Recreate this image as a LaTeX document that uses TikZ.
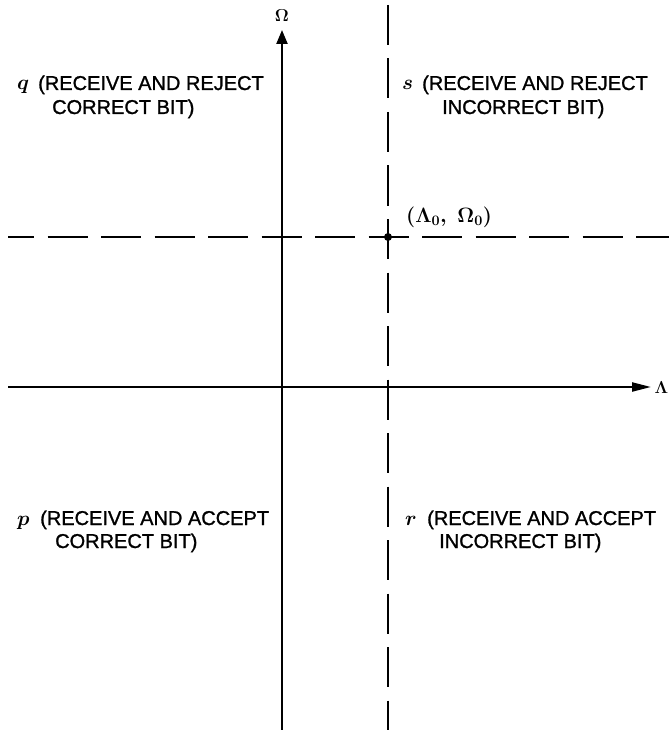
\documentclass[tikz,border=0pt]{standalone}
\usepackage{fontspec}
\setmainfont{Liberation Sans}
\newfontfamily\lettering[FakeBold=1.2]{Liberation Sans}
\usetikzlibrary{arrows.meta}
\begin{document}
\begin{tikzpicture}[x=1pt,y=-1pt,
  axis/.style={line width=2.2pt},
  dashline/.style={line width=2.2pt, dash pattern=on 40pt off 13.5pt},
  lab/.style={anchor=base west, inner sep=0pt, font=\lettering\fontsize{20}{24}\selectfont},
  letr/.style={anchor=base west, inner sep=0pt, font=\fontsize{20}{24}\selectfont\boldmath}]
\useasboundingbox (0,0) rectangle (669,730);
% axes
\coordinate (vbot) at (282,730);
\coordinate (vtop) at (282,30);
\coordinate (hleft) at (8,387);
\coordinate (hright) at (651,387);
\draw[axis,-{Triangle[length=14pt,width=11pt]}] (vbot) -- (vtop);
\draw[axis,-{Triangle[length=19pt,width=9pt]}] (hleft) -- (hright);
\node[inner sep=0pt, font=\fontsize{18}{20}\selectfont\boldmath] (omega) at (282,16) {$\mathbf{\Omega}$};
\node[anchor=east, inner sep=0pt, font=\fontsize{16}{20}\selectfont\boldmath] (lambda) at (668.5,388) {$\mathbf{\Lambda}$};
% dashed threshold lines
\coordinate (dt) at (388,5);
\coordinate (db) at (388,730);
\coordinate (dl) at (8,237);
\coordinate (dr) at (669,237);
\draw[dashline] (dt) -- (db);
\draw[dashline, dash phase=14pt] (dl) -- (dr);
\node[circle, fill, inner sep=0pt, minimum size=8pt] (pt) at (388,237) {};
\node[anchor=base west, inner sep=0pt, font=\fontsize{21}{24}\selectfont\boldmath] (ptlab) at (406,222) {$(\Lambda_{0},\;\Omega_{0})$};
% quadrant labels
\node[letr] (q) at (17,90) {$q$};
\node[lab] (q1) at (38,90) {(RECEIVE AND REJECT};
\node[lab] (q2) at (52,114) {CORRECT BIT)};
\node[letr] (s) at (402,90) {$s$};
\node[lab] (s1) at (422,90) {(RECEIVE AND REJECT};
\node[lab] (s2) at (442,114) {INCORRECT BIT)};
\node[letr] (p) at (17,525) {$p$};
\node[lab] (p1) at (40,525) {(RECEIVE AND ACCEPT};
\node[lab] (p2) at (55,548) {CORRECT BIT)};
\node[letr] (r) at (405,525) {$r$};
\node[lab] (r1) at (427,525) {(RECEIVE AND ACCEPT};
\node[lab] (r2) at (439,548) {INCORRECT BIT)};
\end{tikzpicture}
\end{document}
